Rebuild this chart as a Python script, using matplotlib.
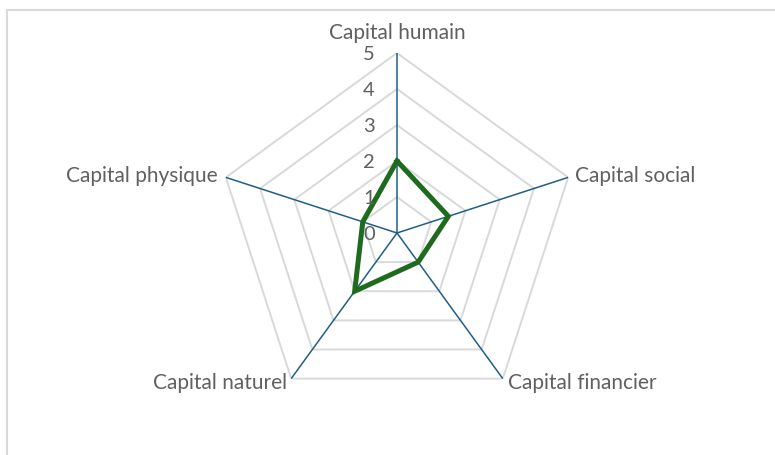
import numpy as np
import matplotlib.pyplot as plt
from matplotlib.lines import Line2D

categories = ['Capital humain', 'Capital social', 'Capital financier',
              'Capital naturel', 'Capital physique']
values = [2, 1.5, 1, 2, 1]
levels = [0, 1, 2, 3, 4, 5]

text_col = '#606060'
grid_col = '#d9d9d9'
spoke_col = '#1f5f87'
line_col = '#1e6b1e'

plt.rcParams['font.family'] = ['Lato', 'DejaVu Sans']

fig = plt.figure(figsize=(7.75, 4.55), dpi=100)

# light frame (top and left edges visible in the reference)
fig.add_artist(Line2D([7 / 775, 1.0], [1 - 10 / 455, 1 - 10 / 455],
                      transform=fig.transFigure, color=grid_col, lw=1.5))
fig.add_artist(Line2D([7 / 775, 7 / 775], [0.0, 1 - 10 / 455],
                      transform=fig.transFigure, color=grid_col, lw=1.5))

cx, cy, R = 397, 233, 180
ax = fig.add_axes([(cx - R) / 775, (455 - cy - R) / 455, 2 * R / 775, 2 * R / 455],
                  projection='polar')
ax.set_theta_offset(np.pi / 2)
ax.set_theta_direction(-1)
ax.set_ylim(0, 5)
ax.grid(False)
ax.spines['polar'].set_visible(False)
ax.set_xticks([])
ax.set_yticks([])
ax.patch.set_alpha(0)

n = len(categories)
angles = np.linspace(0, 2 * np.pi, n, endpoint=False)
closed = np.concatenate([angles, angles[:1]])

# pentagon grid
for lv in levels[1:]:
    ax.plot(closed, [lv] * (n + 1), color=grid_col, lw=1.4, zorder=1)

# spokes
for a in angles:
    ax.plot([a, a], [0, 5], color=spoke_col, lw=1.1, zorder=2)

# data
vals = values + values[:1]
ax.plot(closed, vals, color=line_col, lw=3.6, zorder=3, solid_joinstyle='miter')

# radial tick labels
for lv in levels:
    ax.annotate(str(lv), xy=(0, lv), xytext=(-16, -1), textcoords='offset points',
                ha='right', va='center', fontsize=14.5, color=text_col)

# category labels
offsets = [((0, 7), 'center', 'bottom'),
           ((5, 1), 'left', 'center'),
           ((4, -3), 'left', 'center'),
           ((-3, -3), 'right', 'center'),
           ((-6, 1), 'right', 'center')]
for a, lab, (off, ha, va) in zip(angles, categories, offsets):
    ax.annotate(lab, xy=(a, 5), xytext=off, textcoords='offset points',
                ha=ha, va=va, fontsize=15, color=text_col)

fig.savefig('out.png', dpi=100)
